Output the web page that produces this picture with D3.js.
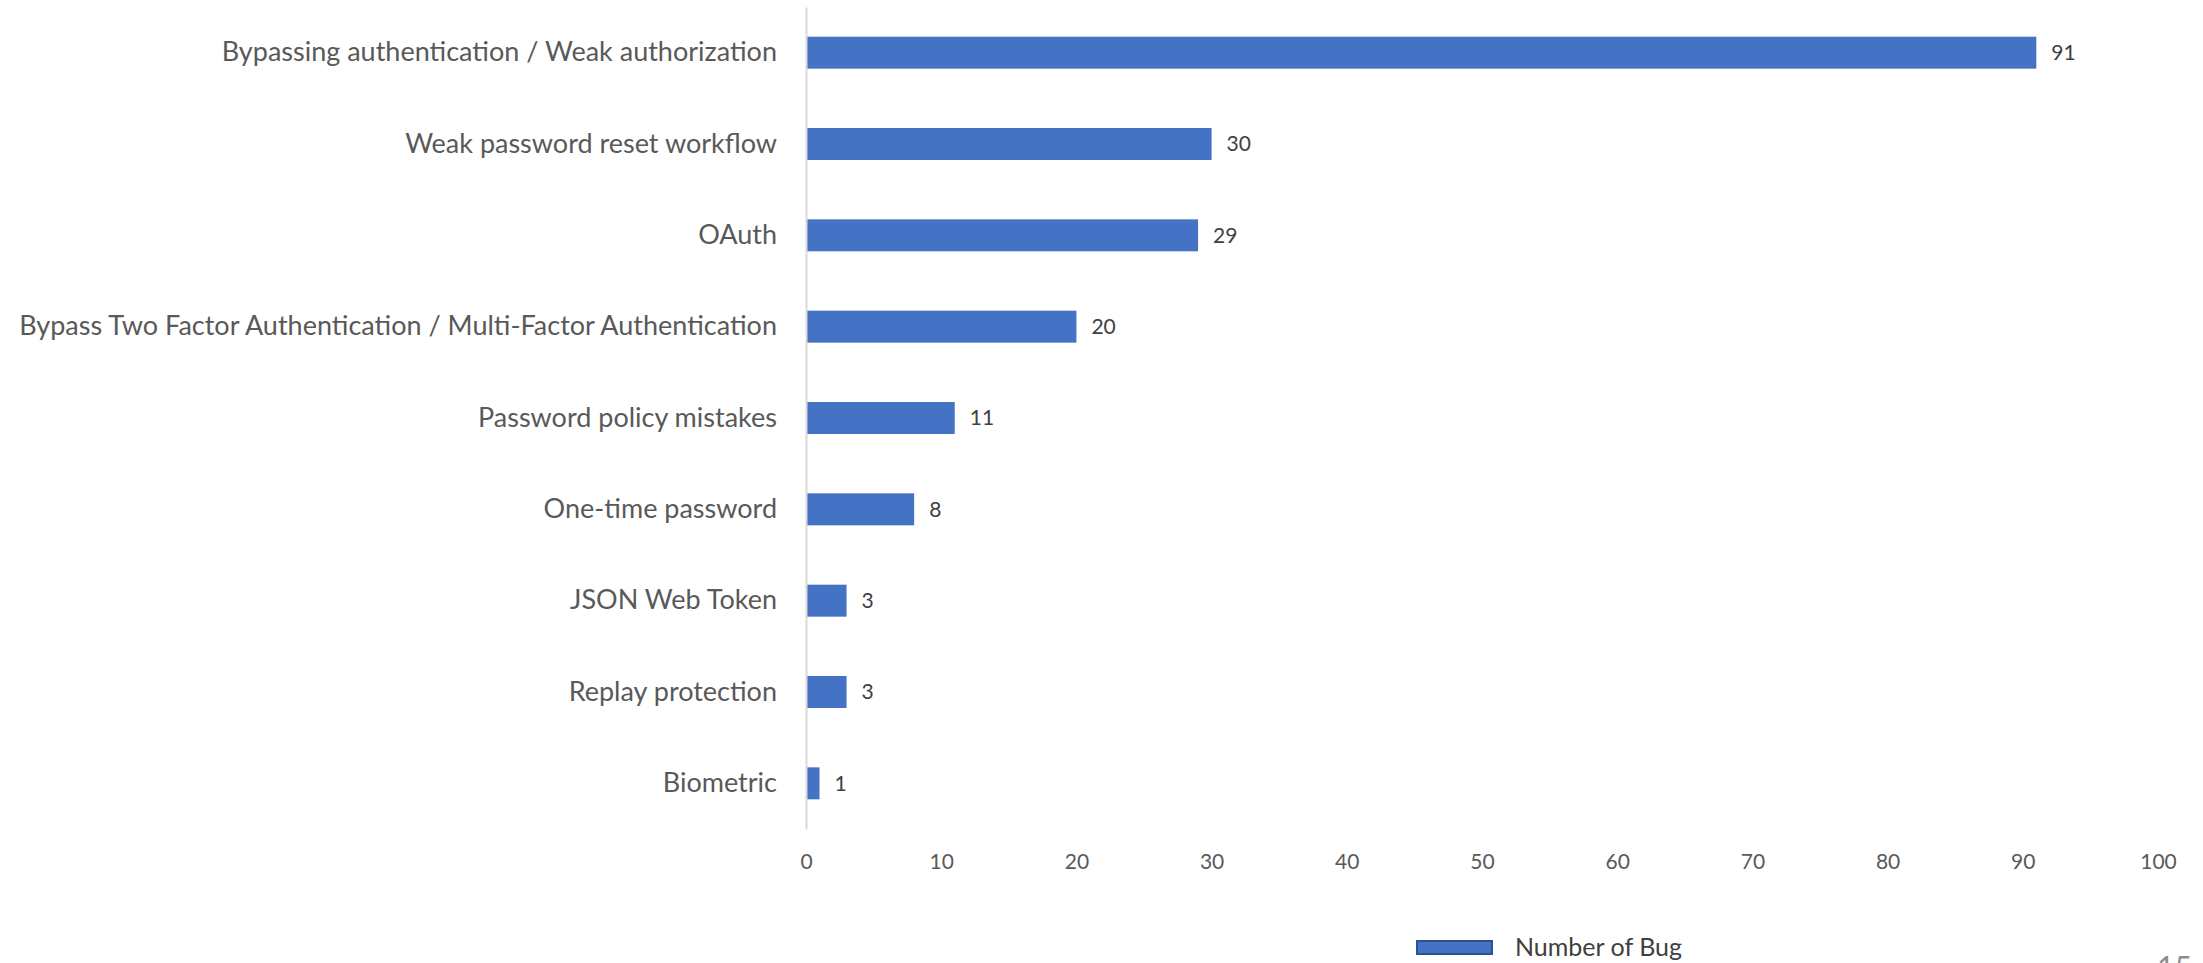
<!DOCTYPE html>
<html>
<head>
<meta charset="utf-8">
<script src="https://cdn.jsdelivr.net/npm/d3@7"></script>
<style>
    html, body { margin: 0; padding: 0; background: #fff; overflow: hidden; }
    text { font-family: Lato, "Open Sans", sans-serif; }
</style>
</head>
<body>
<div id="chart"></div>
<script>
// data
var categories = [
    "Bypassing authentication / Weak authorization",
    "Weak password reset workflow",
    "OAuth",
    "Bypass Two Factor Authentication / Multi-Factor Authentication",
    "Password policy mistakes",
    "One-time password",
    "JSON Web Token",
    "Replay protection",
    "Biometric"
];
var bugCounts = [91, 30, 29, 20, 11, 8, 3, 3, 1];
var xTicks = [0, 10, 20, 30, 40, 50, 60, 70, 80, 90, 100];
var seriesName = "Number of Bug";

var width = 2203, height = 963;

var svg = d3.select("#chart").append("svg").attr("width", width).attr("height", height);

// scales
var x = d3.scaleLinear().domain([0, 100]).range([806, 2158]);
var y = d3.scaleBand().domain(categories).range([7, 829]).paddingInner(0.65).paddingOuter(0.325);

// bars
svg.selectAll("rect.bar").data(bugCounts).enter().append("rect")
    .attr("class", "bar")
    .attr("x", x(0))
    .attr("y", function (d, i) { return y(categories[i]); })
    .attr("width", function (d) { return x(d) - x(0); })
    .attr("height", y.bandwidth())
    .attr("fill", "#4472C4");

// value labels
svg.selectAll("text.val").data(bugCounts).enter().append("text")
    .attr("class", "val")
    .attr("x", function (d) { return x(d) + 15; })
    .attr("y", function (d, i) { return y(categories[i]) + y.bandwidth() / 2; })
    .attr("dy", "0.35em")
    .attr("font-size", 21)
    .attr("fill", "#404040")
    .text(String);

// category axis
var yAxis = svg.append("g").attr("transform", "translate(" + x(0) + ",0)")
    .call(d3.axisLeft(y).tickSize(0).tickPadding(29));
yAxis.select(".domain").attr("stroke", "#d9d9d9").attr("stroke-width", 2);
yAxis.selectAll("text").attr("font-size", 27).attr("fill", "#595959")
    .attr("font-family", "Lato, sans-serif");

// value axis (labels only)
var xAxis = svg.append("g").attr("transform", "translate(0,853)")
    .call(d3.axisBottom(x).tickValues(xTicks).tickSize(0).tickPadding(0));
xAxis.select(".domain").remove();
xAxis.selectAll("text").attr("font-size", 21).attr("fill", "#595959")
    .attr("font-family", "Lato, sans-serif").attr("dy", "0.75em");

// legend
var legend = svg.append("g").attr("transform", "translate(1417,941)");
legend.append("rect").attr("width", 75).attr("height", 13)
    .attr("fill", "#4472C4").attr("stroke", "#2F528F").attr("stroke-width", 2);
legend.append("text").attr("x", 98).attr("y", 6).attr("dy", "0.35em")
    .attr("font-size", 25).attr("fill", "#404040").text(seriesName);

// page number, cut by the frame as in the slide
svg.append("text").attr("x", 2157).attr("y", 978)
    .attr("font-size", 30).attr("fill", "#8c8c8c").text("15");
</script>
</body>
</html>
